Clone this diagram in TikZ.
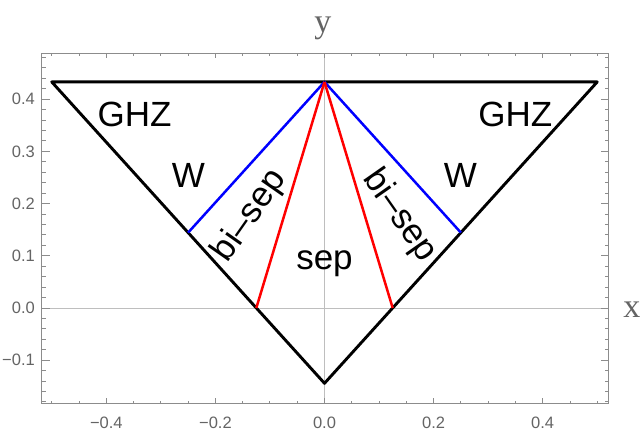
\documentclass[tikz,border=0pt]{standalone}
\usepackage{fontspec}
\setmainfont{Liberation Sans}
\newfontfamily\axisserif{Liberation Serif}
\definecolor{framegray}{RGB}{140,140,140}
\definecolor{labelgray}{RGB}{100,100,100}
\definecolor{zerogray}{RGB}{190,190,190}
\definecolor{pureblue}{RGB}{0,0,255}
\definecolor{purered}{RGB}{255,0,0}
\begin{document}
\begin{tikzpicture}[x=545.5pt,y=522pt,
  frameline/.style={draw=framegray, line width=0.9pt},
  tickline/.style={draw=framegray, line width=0.9pt},
  zeroline/.style={draw=zerogray, line width=0.8pt},
  ticklabel/.style={text=labelgray, font=\fontsize{16.5}{18}\selectfont, inner sep=0pt},
  axislabel/.style={text=labelgray, font=\axisserif\fontsize{34}{40}\selectfont, inner sep=0pt, anchor=base},
  region/.style={font=\fontsize{35}{40}\selectfont, inner sep=0pt},
  blackline/.style={draw=black, line width=2.9pt, line join=round},
  blueline/.style={draw=pureblue, line width=2.5pt},
  redline/.style={draw=purered, line width=2.5pt}]
\useasboundingbox (-0.5949,-0.2452) rectangle (0.5839,0.5900);
\def\xl{-0.5187}
\def\xr{0.5207}
\def\yb{-0.1826}
\def\yt{0.4875}
% zero lines
\draw[zeroline] (0,\yb) -- (0,\yt);
\draw[zeroline] (\xl,0) -- (\xr,0);
% frame
\draw[frameline] (\xl,\yb) rectangle (\xr,\yt);
% x ticks
\foreach \i in {-10,...,10} {
  \draw[tickline] ({\i*0.05},\yb) -- ++(0,2.7pt);
  \draw[tickline] ({\i*0.05},\yt) -- ++(0,-2.7pt);
}
\foreach \i in {-2,...,2} {
  \draw[tickline] ({\i*0.2},\yb) -- ++(0,5pt);
  \draw[tickline] ({\i*0.2},\yt) -- ++(0,-5pt);
}
% y ticks
\foreach \i in {-9,...,24} {
  \draw[tickline] (\xl,{\i*0.02}) -- ++(4pt,0);
  \draw[tickline] (\xr,{\i*0.02}) -- ++(-4pt,0);
}
\foreach \i in {-1,...,4} {
  \draw[tickline] (\xl,{\i*0.1}) -- ++(8pt,0);
  \draw[tickline] (\xr,{\i*0.1}) -- ++(-8pt,0);
}
% tick labels
\foreach \v/\t/\n in {-0.4/−0.4/a,-0.2/−0.2/b,0/0.0/c,0.2/0.2/d,0.4/0.4/e}
  \node[ticklabel, anchor=north] (xlab\n) at (\v,-0.2088) {\t};
\foreach \v/\t/\n in {-0.1/−0.1/a,0/0.0/b,0.1/0.1/c,0.2/0.2/d,0.3/0.3/e,0.4/0.4/f}
  \node[ticklabel, anchor=east] (ylab\n) at (-0.5307,\v) {\t};
% axis labels
\node[axislabel] (xname) at (0.5637,-0.0192) {x};
\node[axislabel] (yname) at (-0.0028,0.5278) {y};
% triangle points
\coordinate (TL) at (-0.5,0.43301);
\coordinate (TR) at (0.5,0.43301);
\coordinate (T) at (0,0.43301);
\coordinate (B) at (0,-0.14434);
\coordinate (BL) at (-0.25,0.14434);
\coordinate (BR) at (0.25,0.14434);
\coordinate (RL) at (-0.125,0);
\coordinate (RR) at (0.125,0);
\draw[blackline] (TL) -- (TR) -- (B) -- cycle;
\draw[blueline] (T) -- (BL);
\draw[blueline] (T) -- (BR);
\draw[redline] (T) -- (RL);
\draw[redline] (T) -- (RR);
% region labels
\node[region, anchor=base] (ghzl) at (-0.3483,0.3473) {GHZ};
\node[region, anchor=base] (ghzr) at (0.3500,0.3473) {GHZ};
\node[region, anchor=base] (wl) at (-0.2493,0.2299) {W};
\node[region, anchor=base] (wr) at (0.2493,0.2299) {W};
\node[region, anchor=base] (sep) at (0,0.0741) {sep};
\node[region, rotate=55] (bisepl) at (-0.1365,0.1762) {bi–sep};
\node[region, rotate=-55] (bisepr) at (0.1375,0.1762) {bi–sep};
\end{tikzpicture}
\end{document}
